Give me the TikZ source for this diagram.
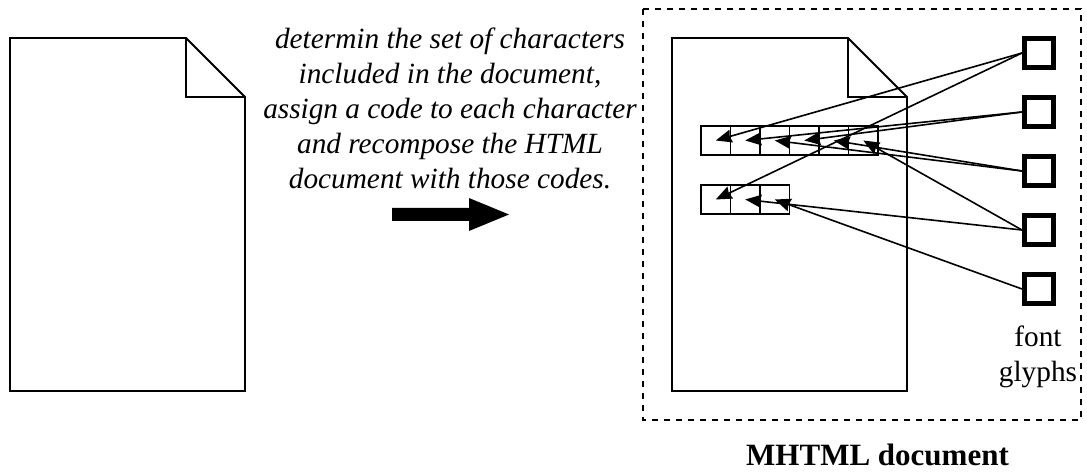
\documentclass[tikz,border=0pt]{standalone}
\usepackage{fontspec}
\setmainfont{Liberation Serif}
\usetikzlibrary{arrows.meta}
\begin{document}
\begin{tikzpicture}[x=1pt,y=-1pt,
  outline/.style={line width=1.8pt, line join=miter},
  glyph/.style={draw, line width=5pt, minimum size=29pt, inner sep=0pt},
  cell/.style={draw, line width=1.6pt, minimum width=29.5pt, minimum height=29pt, inner sep=0pt},
  link/.style={line width=1.6pt, -{Stealth[length=16pt,width=13pt,inset=1.5pt]}},
  caption/.style={font=\fontsize{29.3}{35}\selectfont\itshape, align=center},
  plain/.style={font=\fontsize{29.3}{35}\selectfont, align=center},
  title/.style={font=\fontsize{31}{37}\selectfont\bfseries}]

\useasboundingbox (0,0) rectangle (1087,473);

% source HTML page
\draw[outline] (10,38) -- (186,38) -- (245,97) -- (245,391) -- (10,391) -- cycle;
\draw[outline] (186,38) -- (186,97) -- (245,97);

% processing step (anchored at the baseline of its last line)
\node[caption, anchor=base] (step) at (450,189)
  {determin the set of characters\\
   included in the document,\\
   assign a code to each character\\
   and recompose the HTML\\
   document with those codes.};
\fill (392,208) -- (469,208) -- (469,198) -- (509,214.5) -- (469,231) -- (469,221) -- (392,221) -- cycle;

% MHTML container
\draw[line width=1.7pt, dash pattern=on 6pt off 6pt] (643,9) rectangle (1081,420);
\node[title, anchor=base] (mhtml) at (877.5,465) {MHTML document};

% recomposed page
\draw[outline] (672,38) -- (848,38) -- (907,97) -- (907,391) -- (672,391) -- cycle;
\draw[outline] (848,38) -- (848,97) -- (907,97);

% character code cells
\foreach \i in {1,...,6}
  \node[cell] (r1c\i) at ({701+14.75+29.5*(\i-1)},140.5) {};
\foreach \i in {1,...,3}
  \node[cell] (r2c\i) at ({701+14.75+29.5*(\i-1)},199.5) {};

% font glyphs
\foreach \i in {1,...,5}
  \node[glyph] (g\i) at (1039,{53+59*(\i-1)}) {};
\node[plain, anchor=base] (glyphs) at (1038,381) {font\\glyphs};

% glyph references
\draw[link] (g1.west) -- (r1c1.center);
\draw[link] (g1.west) -- (r2c1.center);
\draw[link] (g2.west) -- (r1c2.center);
\draw[link] (g2.west) -- (r1c4.center);
\draw[link] (g3.west) -- (r1c3.center);
\draw[link] (g3.west) -- (r1c5.center);
\draw[link] (g4.west) -- (r1c6.center);
\draw[link] (g4.west) -- (r2c2.center);
\draw[link] (g5.west) -- (r2c3.center);
\end{tikzpicture}
\end{document}
